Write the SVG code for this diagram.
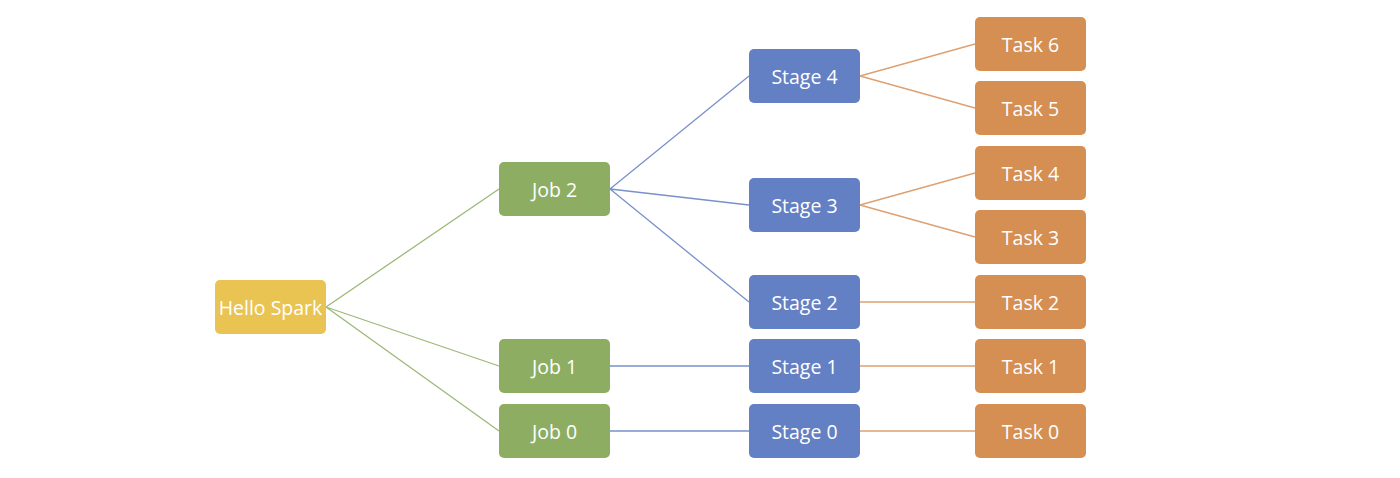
<svg xmlns="http://www.w3.org/2000/svg" width="1400" height="478" viewBox="0 0 1400 478">
<style>
.n rect{rx:5;ry:5}
.y rect{fill:#E9C452}
.g rect{fill:#8DAE62}
.b rect{fill:#6480C4}
.o rect{fill:#D58F53}
text{font-family:"Open Sans","Liberation Sans",sans-serif;font-size:19.5px;fill:#fff;text-anchor:middle;dominant-baseline:central}
.eg{stroke:#9DB977;stroke-width:1.3;fill:none}
.eb{stroke:#7891CB;stroke-width:1.3;fill:none}
.eo{stroke:#DDA072;stroke-width:1.3;fill:none}
</style>
<rect width="1400" height="478" fill="#fff"/>
<g id="connectors">
<path class="eg" d="M326 307L499 189M326 307L499 366M326 307L499 431"/>
<path class="eb" d="M610 189L749 76M610 189L749 205M610 189L749 302M610 366L749 366M610 431L749 431"/>
<path class="eo" d="M860 76L975 44M860 76L975 108M860 205L975 173M860 205L975 237M860 302L975 302M860 366L975 366M860 431L975 431"/>
</g>
<g id="hello" class="n y"><rect x="215" y="280" width="111" height="54"/><text x="270.5" y="307">Hello Spark</text></g>
<g id="job2" class="n g"><rect x="499" y="162" width="111" height="54"/><text x="554.5" y="189">Job 2</text></g>
<g id="job1" class="n g"><rect x="499" y="339" width="111" height="54"/><text x="554.5" y="366">Job 1</text></g>
<g id="job0" class="n g"><rect x="499" y="404" width="111" height="54"/><text x="554.5" y="431">Job 0</text></g>
<g id="stage4" class="n b"><rect x="749" y="49" width="111" height="54"/><text x="804.5" y="76">Stage 4</text></g>
<g id="stage3" class="n b"><rect x="749" y="178" width="111" height="54"/><text x="804.5" y="205">Stage 3</text></g>
<g id="stage2" class="n b"><rect x="749" y="275" width="111" height="54"/><text x="804.5" y="302">Stage 2</text></g>
<g id="stage1" class="n b"><rect x="749" y="339" width="111" height="54"/><text x="804.5" y="366">Stage 1</text></g>
<g id="stage0" class="n b"><rect x="749" y="404" width="111" height="54"/><text x="804.5" y="431">Stage 0</text></g>
<g id="task6" class="n o"><rect x="975" y="17" width="111" height="54"/><text x="1030.5" y="44">Task 6</text></g>
<g id="task5" class="n o"><rect x="975" y="81" width="111" height="54"/><text x="1030.5" y="108">Task 5</text></g>
<g id="task4" class="n o"><rect x="975" y="146" width="111" height="54"/><text x="1030.5" y="173">Task 4</text></g>
<g id="task3" class="n o"><rect x="975" y="210" width="111" height="54"/><text x="1030.5" y="237">Task 3</text></g>
<g id="task2" class="n o"><rect x="975" y="275" width="111" height="54"/><text x="1030.5" y="302">Task 2</text></g>
<g id="task1" class="n o"><rect x="975" y="339" width="111" height="54"/><text x="1030.5" y="366">Task 1</text></g>
<g id="task0" class="n o"><rect x="975" y="404" width="111" height="54"/><text x="1030.5" y="431">Task 0</text></g>
</svg>
